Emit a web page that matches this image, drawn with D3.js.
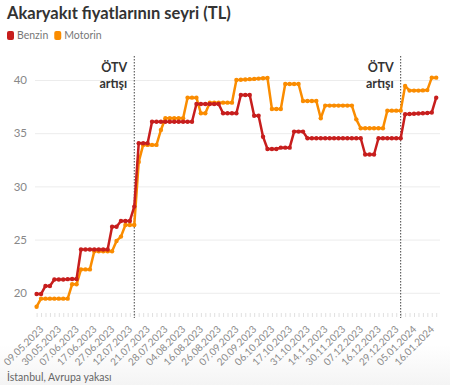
<!DOCTYPE html>
<html><head><meta charset="utf-8">
<script src="https://cdn.jsdelivr.net/npm/d3@7"></script>
<style>
html,body{margin:0;padding:0;background:#fff;}
svg{display:block;font-family:Lato,"Open Sans",sans-serif;}
</style></head>
<body><svg id="c" width="450" height="385"></svg>
<script>
const categories = ["09.05.2023","13.05.2023","18.05.2023","25.05.2023","30.05.2023","01.06.2023","03.06.2023","05.06.2023",
"07.06.2023","10.06.2023","12.06.2023","14.06.2023","17.06.2023","20.06.2023","22.06.2023","24.06.2023",
"27.06.2023","01.07.2023","05.07.2023","08.07.2023","12.07.2023","14.07.2023","16.07.2023","17.07.2023",
"21.07.2023","23.07.2023","25.07.2023","27.07.2023","28.07.2023","30.07.2023","01.08.2023","02.08.2023",
"04.08.2023","08.08.2023","11.08.2023","13.08.2023","16.08.2023","19.08.2023","21.08.2023","24.08.2023",
"26.08.2023","29.08.2023","01.09.2023","04.09.2023","07.09.2023","10.09.2023","13.09.2023","16.09.2023",
"20.09.2023","23.09.2023","27.09.2023","30.09.2023","06.10.2023","09.10.2023","11.10.2023","14.10.2023",
"17.10.2023","20.10.2023","24.10.2023","27.10.2023","31.10.2023","03.11.2023","07.11.2023","10.11.2023",
"14.11.2023","18.11.2023","22.11.2023","25.11.2023","30.11.2023","02.12.2023","04.12.2023","05.12.2023",
"07.12.2023","09.12.2023","11.12.2023","14.12.2023","16.12.2023","19.12.2023","23.12.2023","26.12.2023",
"29.12.2023","30.12.2023","01.01.2024","03.01.2024","05.01.2024","08.01.2024","10.01.2024","13.01.2024",
"16.01.2024","18.01.2024","20.01.2024"];

const benzin = [19.88,19.88,20.64,20.64,21.25,21.25,21.25,21.28,21.3,21.3,
24.07,24.07,24.07,24.07,24.07,24.07,24.07,26.21,26.21,26.75,26.75,26.75,28.1,
34.05,34.05,34.05,
36.08,36.08,36.08,36.08,36.08,36.08,36.08,36.08,36.08,36.08,
37.74,37.74,37.74,37.74,37.74,37.74,
36.87,36.87,36.87,36.87,
38.59,38.59,38.59,36.64,36.64,34.67,
33.51,33.51,33.51,33.64,33.64,33.64,35.15,35.15,35.15,
34.52,34.52,34.52,34.52,34.52,34.52,34.52,34.52,34.52,34.52,34.52,34.52,34.52,
33.0,33.0,33.0,
34.52,34.52,34.52,34.52,34.52,34.52,
36.78,36.8,36.82,36.85,36.88,36.9,36.95,38.34];

const motorin = [18.69,19.45,19.45,19.45,19.45,19.45,19.45,19.45,20.8,20.8,
22.2,22.2,22.2,23.9,23.9,23.9,23.9,23.9,24.87,25.28,26.37,26.37,26.37,
32.3,33.9,33.9,33.9,33.9,35.3,
36.4,36.4,36.4,36.4,36.4,
38.34,38.34,38.34,36.87,36.87,
37.87,37.87,37.87,37.87,37.87,37.87,
40.0,40.02,40.05,40.08,40.1,40.13,40.16,40.19,
37.27,37.27,37.27,39.62,39.62,39.62,39.62,38.03,38.03,38.03,38.03,36.4,
37.59,37.59,37.59,37.59,37.59,37.59,37.59,36.3,
35.46,35.46,35.46,35.46,35.46,35.46,
37.12,37.12,37.12,37.12,39.44,39.0,39.0,39.0,39.02,39.05,40.22,40.22];

const yTicks = [20,25,30,35,40];
const seriesNames = ["Benzin","Motorin"];
const seriesColors = ["#c71e1d","#fa8c00"];
const annotations = [{date:"16.07.2023", text:["ÖTV","artışı"]},{date:"01.01.2024", text:["ÖTV","artışı"]}];
const labelEvery = 4;

const svg = d3.select("#c");
const x = d3.scalePoint().domain(categories).range([36.6, 436.2]);
const y = d3.scaleLinear().domain([18.1, 41.69]).range([313, 62]);

// footer gradient
const defs = svg.append("defs");
const g = defs.append("linearGradient").attr("id","fg").attr("x1",0).attr("x2",0).attr("y1",0).attr("y2",1);
g.append("stop").attr("offset","0").attr("stop-color","#fff");
g.append("stop").attr("offset","1").attr("stop-color","#f4f4f4");
svg.append("rect").attr("x",0).attr("y",345).attr("width",450).attr("height",40).attr("fill","url(#fg)");

// title
svg.append("text").attr("x",7).attr("y",19).attr("font-size",16.5).attr("font-weight",700).attr("fill","#333")
  .text("Akaryakıt fiyatlarının seyri (TL)");

// legend
let lx = 7;
seriesNames.forEach((n,i)=>{
  svg.append("rect").attr("x",lx).attr("y",31).attr("width",7).attr("height",9).attr("rx",2).attr("fill",seriesColors[i]);
  const t = svg.append("text").attr("x",lx+10).attr("y",39).attr("font-size",10.5).attr("fill","#777").text(n);
  lx += 10 + t.node().getComputedTextLength() + 6;
});

// grid
const yAxis = d3.axisLeft(y).tickValues(yTicks).tickSize(-(440-35)).tickPadding(8);
const ga = svg.append("g").attr("transform","translate(35,0)").call(yAxis);
ga.select(".domain").remove();
ga.selectAll(".tick line").attr("stroke","#ececec");
ga.selectAll(".tick text").attr("font-size",11.5).attr("fill","#888").attr("font-family","Lato,sans-serif");

// x axis ticks
const xAxis = d3.axisBottom(x).tickSize(4).tickFormat((d,i)=> i%labelEvery===0 ? d : "");
const gx = svg.append("g").attr("transform","translate(0,313)").call(xAxis);
gx.select(".domain").remove();
gx.selectAll(".tick line").attr("stroke","#e0e0e0");
gx.selectAll(".tick text").attr("font-size",10).attr("fill","#8a8a8a").attr("font-family","Lato,sans-serif")
  .attr("text-anchor","end").attr("dx",0).attr("dy",0)
  .attr("transform","translate(7,17) rotate(-45)").attr("y",0);

// annotation lines
annotations.forEach(a=>{
  const xx = x(a.date);
  svg.append("line").attr("x1",xx).attr("x2",xx).attr("y1",56).attr("y2",318)
    .attr("stroke","#444").attr("stroke-width",1).attr("stroke-dasharray","1.5,1.5");
  a.text.forEach((t,i)=>{
    svg.append("text").attr("x",xx-7).attr("y",72+i*16).attr("text-anchor","end")
      .attr("font-size",12.5).attr("font-weight",700).attr("fill","#333").text(t);
  });
});

// lines
[benzin, motorin].slice().reverse().forEach((vals,ri)=>{
  const i = 1-ri;
  const data = vals.map((v,k)=>({c:categories[k], v}));
  const line = d3.line().x(d=>x(d.c)).y(d=>y(d.v));
  svg.append("path").datum(data).attr("d",line).attr("fill","none")
    .attr("stroke",seriesColors[i]).attr("stroke-width",2.5).attr("stroke-linejoin","round");
  svg.append("g").selectAll("circle").data(data).join("circle")
    .attr("cx",d=>x(d.c)).attr("cy",d=>y(d.v)).attr("r",2.2).attr("fill",seriesColors[i]);
});

// footer
svg.append("text").attr("x",7).attr("y",381).attr("font-size",10.5).attr("fill","#666").text("İstanbul, Avrupa yakası");
</script></body></html>
